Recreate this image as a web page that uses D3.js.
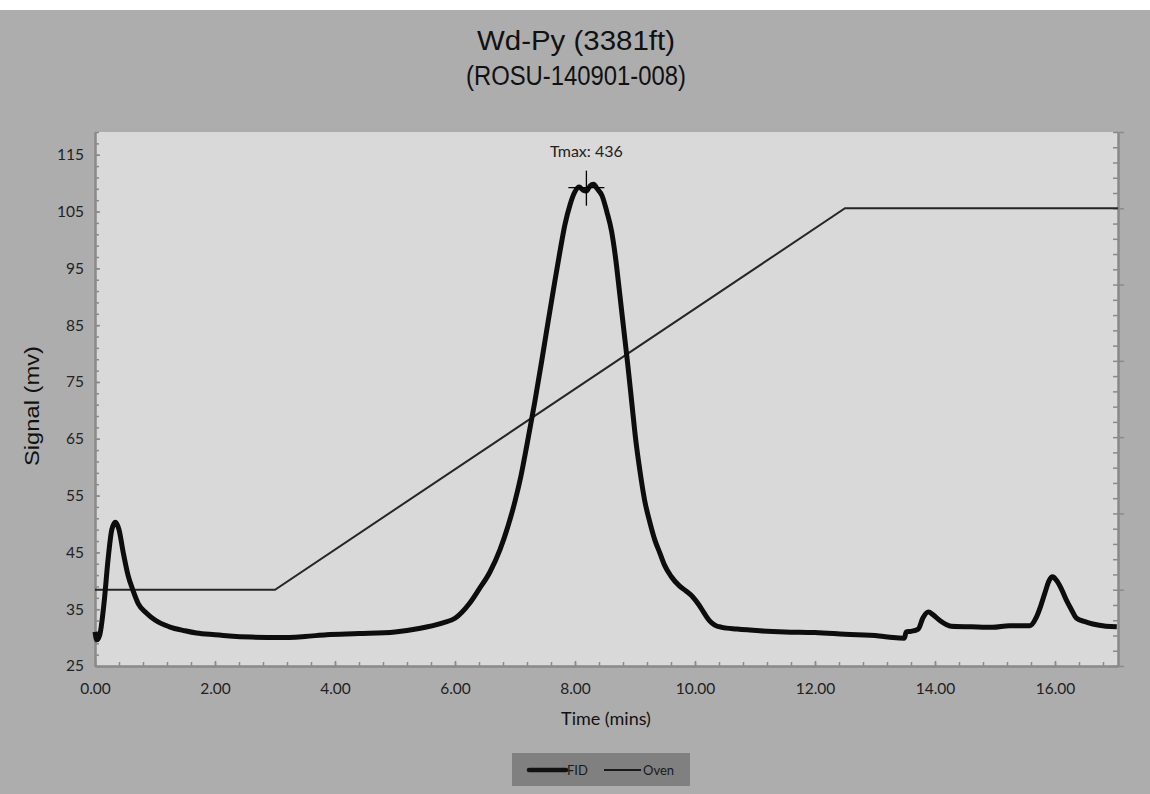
<!DOCTYPE html>
<html>
<head>
<meta charset="utf-8">
<script src="https://cdn.jsdelivr.net/npm/d3@7"></script>
<style>
  body { margin: 0; background: #fff; }
  svg { display: block; }
</style>
</head>
<body>
<figure id="chart" style="margin:0"></figure>
<script>
// FID signal (time in mins, signal in mv)
const fidTime = [0.00, 0.03, 0.08, 0.15, 0.22, 0.28, 0.34, 0.40, 0.47, 0.55, 0.63, 0.72, 0.86, 1.00, 1.24, 1.50, 1.69, 2.00, 2.24, 2.60, 3.08, 3.50, 3.86, 4.40, 5.00, 5.40, 5.80, 6.00, 6.24, 6.40, 6.58, 6.75, 6.88, 7.00, 7.10, 7.20, 7.33, 7.45, 7.55, 7.66, 7.75, 7.83, 7.92, 8.00, 8.07, 8.13, 8.19, 8.25, 8.31, 8.37, 8.45, 8.53, 8.61, 8.68, 8.74, 8.81, 8.88, 8.95, 9.01, 9.08, 9.16, 9.25, 9.33, 9.41, 9.49, 9.60, 9.74, 9.85, 9.96, 10.07, 10.16, 10.24, 10.33, 10.45, 10.70, 11.08, 11.50, 12.00, 12.50, 13.07, 13.30, 13.49, 13.52, 13.60, 13.72, 13.80, 13.89, 13.97, 14.08, 14.27, 14.60, 14.96, 15.24, 15.58, 15.69, 15.76, 15.83, 15.90, 15.96, 16.03, 16.11, 16.19, 16.27, 16.36, 16.50, 16.63, 16.85, 17.03];
const fidSignal = [31.0, 29.6, 30.5, 36.0, 44.0, 49.0, 50.3, 49.0, 45.0, 41.0, 38.4, 36.0, 34.3, 33.1, 31.9, 31.2, 30.8, 30.5, 30.3, 30.1, 30.0, 30.2, 30.5, 30.7, 31.0, 31.6, 32.6, 33.4, 36.0, 38.5, 41.5, 45.5, 49.5, 54.0, 58.5, 64.0, 71.5, 79.0, 85.5, 92.5, 98.0, 102.6, 106.3, 108.5, 109.3, 108.8, 108.6, 109.5, 109.8, 109.0, 107.8, 105.0, 101.5, 96.5, 91.0, 84.5, 78.0, 71.0, 65.0, 59.5, 54.2, 50.2, 47.2, 45.0, 42.8, 40.8, 39.1, 38.2, 37.2, 35.7, 34.2, 33.0, 32.2, 31.8, 31.5, 31.2, 31.0, 30.9, 30.6, 30.3, 30.0, 29.9, 31.0, 31.1, 31.5, 33.5, 34.5, 34.0, 33.0, 32.0, 31.9, 31.8, 32.1, 32.1, 33.6, 35.5, 37.8, 40.0, 40.7, 40.0, 38.5, 36.6, 35.0, 33.4, 32.8, 32.4, 32.0, 31.9];

// Oven programme (secondary axis, no labels shown)
const ovenTime = [0.00, 3.00, 12.50, 17.05];
const ovenTemp = [300, 300, 800, 800];

// Tmax marker
const tmaxTime = 8.19;
const tmaxSignal = 109.2;
const tmaxLabel = 'Tmax: 436';

// Axes
const xTicks = [0, 2, 4, 6, 8, 10, 12, 14, 16];
const yTicks = [25, 35, 45, 55, 65, 75, 85, 95, 105, 115];
const y2Ticks = [200, 300, 400, 500, 600, 700, 800, 900];

const titleLines = ['Wd-Py (3381ft)', '(ROSU-140901-008)'];

const width = 1150;
const height = 794;
const plot = {left: 95, right: 1118, top: 132, bottom: 666};

const svg = d3.select('figure#chart')
  .append('svg')
  .attr('width', width)
  .attr('height', height);

// background
svg.append('rect')
  .attr('x', 0).attr('y', 10)
  .attr('width', width).attr('height', height - 10)
  .attr('fill', '#adadad');

svg.append('rect')
  .attr('x', plot.left).attr('y', plot.top)
  .attr('width', plot.right - plot.left).attr('height', plot.bottom - plot.top)
  .attr('fill', '#d9d9d9');

// title
svg.selectAll('text.title')
  .data(titleLines)
  .enter()
  .append('text')
  .attr('class', 'title')
  .attr('x', 576)
  .attr('y', (d, i) => 50 + i * 35)
  .attr('text-anchor', 'middle')
  .attr('textLength', (d, i) => i === 0 ? 198 : 220)
  .attr('lengthAdjust', 'spacingAndGlyphs')
  .style('font-family', '"Liberation Sans", Arial, sans-serif')
  .style('font-size', '27px')
  .style('fill', '#111')
  .text(d => d);

const x = d3.scaleLinear()
  .domain([0, 17.05])
  .range([plot.left, plot.right]);

const y = d3.scaleLinear()
  .domain([25, 119])
  .range([plot.bottom, plot.top]);

const y2 = d3.scaleLinear()
  .domain([200, 900])
  .range([plot.bottom, plot.top]);

const axisColor = '#8a8a8a';
const labelFont = 'Lato, "Open Sans", sans-serif';

function styleAxis(g) {
  g.selectAll('.domain').attr('stroke', axisColor).attr('stroke-width', 2);
  g.selectAll('.tick line').attr('stroke', axisColor).attr('stroke-width', 1.5);
  g.selectAll('.tick text')
    .style('font-family', labelFont)
    .style('font-size', '15.5px')
    .style('fill', '#222');
}

// Add X axis
const xMinor = d3.range(0, 17.05, 0.4);
svg.append('g')
  .attr('transform', 'translate(0,' + plot.bottom + ')')
  .call(d3.axisBottom(x).tickValues(xMinor).tickFormat('').tickSize(-4).tickSizeOuter(0))
  .call(styleAxis);
svg.append('g')
  .attr('transform', 'translate(0,' + plot.bottom + ')')
  .call(d3.axisBottom(x).tickValues(xTicks).tickFormat(d3.format('.2f')).tickSize(-5).tickSizeOuter(0).tickPadding(17))
  .call(styleAxis);

// Add Y axis
const yMinor = d3.range(27, 119.1, 2);
svg.append('g')
  .attr('transform', 'translate(' + plot.left + ',0)')
  .call(d3.axisLeft(y).tickValues(yMinor).tickFormat('').tickSize(-4).tickSizeOuter(0))
  .call(styleAxis);
svg.append('g')
  .attr('transform', 'translate(' + plot.left + ',0)')
  .call(d3.axisLeft(y).tickValues(yTicks).tickSize(-5).tickSizeOuter(0).tickPadding(11))
  .call(styleAxis);

// secondary axis on the right, ticks only
const y2Minor = d3.range(200, 900.1, 20);
svg.append('g')
  .attr('transform', 'translate(' + plot.right + ',0)')
  .call(d3.axisRight(y2).tickValues(y2Minor).tickFormat('').tickSize(-5).tickSizeOuter(0))
  .call(styleAxis);
svg.append('g')
  .attr('transform', 'translate(' + plot.right + ',0)')
  .call(d3.axisRight(y2).tickValues(y2Ticks).tickFormat('').tickSize(6).tickSizeOuter(0))
  .call(styleAxis);

// axis titles
svg.append('text')
  .attr('transform', 'translate(39,' + 406 + ') rotate(-90)')
  .attr('text-anchor', 'middle')
  .attr('textLength', 120)
  .attr('lengthAdjust', 'spacingAndGlyphs')
  .style('font-family', '"Liberation Sans", Arial, sans-serif')
  .style('font-size', '20px')
  .style('fill', '#111')
  .text('Signal (mv)');

svg.append('text')
  .attr('x', 606)
  .attr('y', 725)
  .attr('text-anchor', 'middle')
  .style('font-family', labelFont)
  .style('font-size', '18px')
  .style('fill', '#111')
  .text('Time (mins)');

// Oven line
const ovenData = ovenTime.map((t, i) => ({t: t, v: ovenTemp[i]}));
svg.append('path')
  .datum(ovenData)
  .attr('fill', 'none')
  .attr('stroke', '#262626')
  .attr('stroke-width', 2)
  .attr('d', d3.line().x(d => x(d.t)).y(d => y2(d.v)));

// FID line
const fidData = fidTime.map((t, i) => ({t: t, v: fidSignal[i]}));
svg.append('path')
  .datum(fidData)
  .attr('fill', 'none')
  .attr('stroke', '#0d0d0d')
  .attr('stroke-width', 5)
  .attr('stroke-linejoin', 'round')
  .attr('d', d3.line().curve(d3.curveMonotoneX).x(d => x(d.t)).y(d => y(d.v)));

// Tmax cross
const tx = x(tmaxTime);
const ty = y(tmaxSignal);
svg.append('line')
  .attr('x1', tx - 18).attr('x2', tx + 18)
  .attr('y1', ty).attr('y2', ty)
  .attr('stroke', '#000').attr('stroke-width', 1.3);
svg.append('line')
  .attr('x1', tx).attr('x2', tx)
  .attr('y1', ty - 17).attr('y2', ty + 18)
  .attr('stroke', '#000').attr('stroke-width', 1.3);
svg.append('text')
  .attr('x', tx)
  .attr('y', 157)
  .attr('text-anchor', 'middle')
  .style('font-family', labelFont)
  .style('font-size', '16px')
  .style('fill', '#222')
  .text(tmaxLabel);

// Legend
const legend = svg.append('g');
legend.append('rect')
  .attr('x', 512).attr('y', 753)
  .attr('width', 178).attr('height', 33)
  .attr('fill', '#808080');
legend.append('line')
  .attr('x1', 529).attr('x2', 566).attr('y1', 770).attr('y2', 770)
  .attr('stroke', '#111').attr('stroke-width', 4.5).attr('stroke-linecap', 'round');
legend.append('text')
  .attr('x', 567).attr('y', 775)
  .style('font-family', labelFont).style('font-size', '13px').style('fill', '#1a1a1a')
  .text('FID');
legend.append('line')
  .attr('x1', 604).attr('x2', 641).attr('y1', 770).attr('y2', 770)
  .attr('stroke', '#1a1a1a').attr('stroke-width', 2.2);
legend.append('text')
  .attr('x', 643).attr('y', 775)
  .style('font-family', labelFont).style('font-size', '13px').style('fill', '#1a1a1a')
  .text('Oven');
</script>
</body>
</html>
